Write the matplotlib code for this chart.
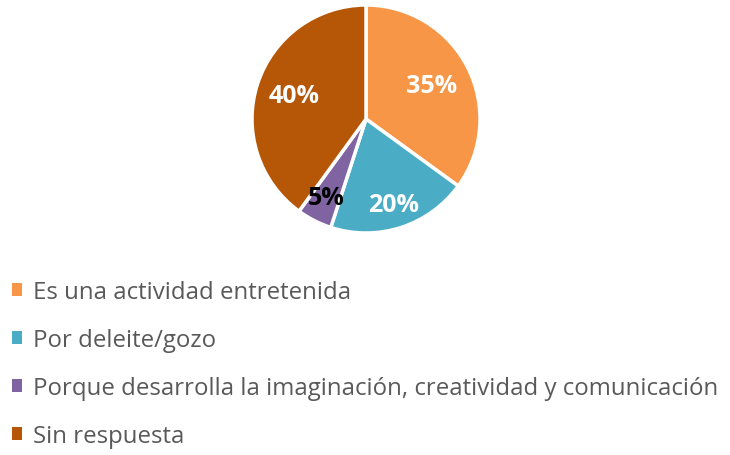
import matplotlib
matplotlib.use("Agg")
import matplotlib.pyplot as plt
import numpy as np

categories = ["Es una actividad entretenida", "Por deleite/gozo",
              "Porque desarrolla la imaginación, creatividad y comunicación",
              "Sin respuesta"]
values = [35, 20, 5, 40]
colors = ["#F79646", "#4BACC6", "#8064A2", "#B65708"]
label_colors = ["white", "white", "black", "white"]
label_radii = [0.65, 0.79, 0.77, 0.66]

plt.rcParams['font.family'] = ['Open Sans', 'DejaVu Sans']

W, H = 730, 456
fig = plt.figure(figsize=(W / 100, H / 100), dpi=100)
cx, cy, r = 366, 120, 114
ax = fig.add_axes([(cx - r) / W, (H - cy - r) / H, 2 * r / W, 2 * r / H])

wedges, _ = ax.pie(values, colors=colors, startangle=90, counterclock=False,
                   radius=1, wedgeprops=dict(edgecolor="white", linewidth=2.5))
total = sum(values)
for v, w, lc, lr in zip(values, wedges, label_colors, label_radii):
    mid = np.deg2rad((w.theta1 + w.theta2) / 2)
    ax.text(lr * np.cos(mid), lr * np.sin(mid), f"{round(100 * v / total)}%",
            ha="center", va="center", color=lc, fontsize=18, fontweight="bold")
ax.set_xlim(-1, 1)
ax.set_ylim(-1, 1)
ax.set_aspect("equal")
ax.axis("off")

leg = fig.legend(wedges, categories, loc="upper left",
                 bbox_to_anchor=(-12 / W, (H - 257) / H), frameon=False,
                 fontsize=17.3, handlelength=0.42, handleheight=0.42,
                 handletextpad=0.45, labelspacing=1.0, borderpad=0.5)
for t in leg.get_texts():
    t.set_color("#595959")
for h in leg.legend_handles:
    h.set_edgecolor("none")

fig.savefig("out.png", dpi=100)
